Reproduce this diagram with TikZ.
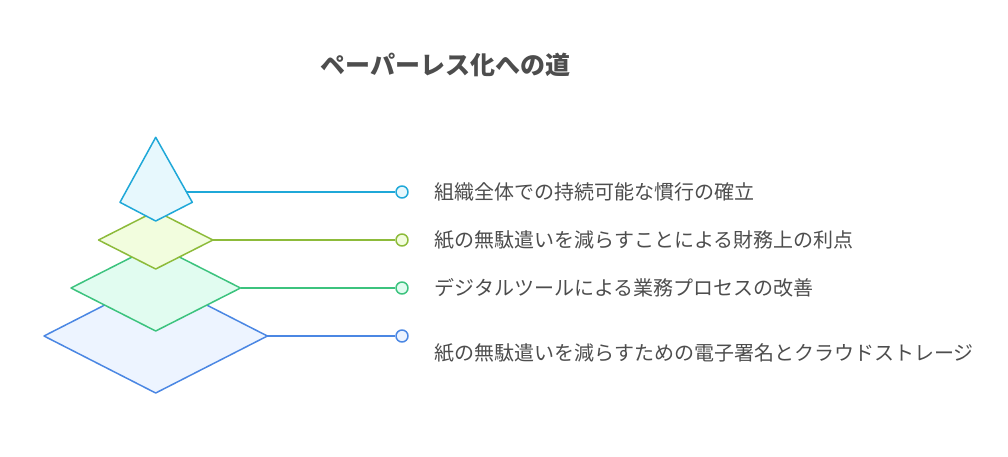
\documentclass[tikz,border=0pt]{standalone}
\usepackage{fontspec}
\setmainfont{Noto Sans CJK JP}
\definecolor{topline}{HTML}{1FA8D8}
\definecolor{topfill}{HTML}{E7F8FD}
\definecolor{limeline}{HTML}{8DBB3A}
\definecolor{limefill}{HTML}{F2FDDE}
\definecolor{mintline}{HTML}{3CC37E}
\definecolor{mintfill}{HTML}{E1FCF0}
\definecolor{blueline}{HTML}{4B87E3}
\definecolor{bluefill}{HTML}{EDF4FF}
\definecolor{textgray}{HTML}{4D4D4D}
\tikzset{
  dot/.style = {circle, line width = 1.5pt, minimum size = 12pt, inner sep = 0pt},
  itemtext/.style = {anchor = west, inner sep = 0pt, text = textgray, font = \fontsize{20}{24}\selectfont}
}
\begin{document}
\begin{tikzpicture}[x = 1pt, y = -1pt, line width = 1.5pt, line join = round]
\useasboundingbox (0,0) rectangle (1008,456);
\node[text = textgray, font = \bfseries\fontsize{25}{29}\selectfont] (title) at (445.5,65) {ペーパーレス化への道};
\coordinate (topR) at (186.3,192);
\coordinate (limeR) at (212.9,240);
\coordinate (mintR) at (240.5,288);
\coordinate (blueR) at (267.4,336);
\filldraw[draw = blueline, fill = bluefill] (44,336) -- (155.7,279) -- (blueR) -- (155.7,393) -- cycle;
\filldraw[draw = mintline, fill = mintfill] (71,288) -- (155.7,245) -- (mintR) -- (155.7,331) -- cycle;
\filldraw[draw = limeline, fill = limefill] (98.5,240) -- (155.7,211) -- (limeR) -- (155.7,269) -- cycle;
\filldraw[draw = topline, fill = topfill] (155.7,137.3) -- (192.3,202.3) -- (155.7,221) -- (120,202.3) -- cycle;
\foreach \d/\y/\lc/\fc in {dota/192/topline/topfill, dotb/240/limeline/limefill, dotc/288/mintline/mintfill, dotd/336/blueline/bluefill}
\node[dot, draw = \lc, fill = \fc] (\d) at (402,\y) {};
\draw[topline] (topR) -- (dota);
\draw[limeline] (limeR) -- (dotb);
\draw[mintline] (mintR) -- (dotc);
\draw[blueline] (blueR) -- (dotd);
\node[itemtext] (t1) at (434,192) {組織全体での持続可能な慣行の確立};
\node[itemtext] (t2) at (434,240) {紙の無駄遣いを減らすことによる財務上の利点};
\node[itemtext] (t3) at (434,288) {デジタルツールによる業務プロセスの改善};
\node[itemtext] (t4) at (434,353) {紙の無駄遣いを減らすための電子署名とクラウドストレージ};
\end{tikzpicture}
\end{document}
